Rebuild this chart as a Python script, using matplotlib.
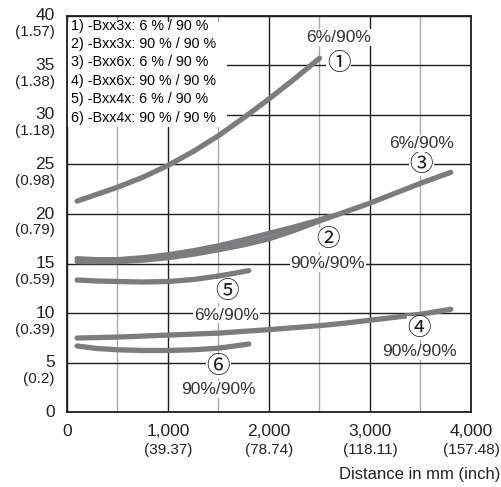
import matplotlib
matplotlib.use("Agg")
import matplotlib.pyplot as plt
from matplotlib.patches import Rectangle

plt.rcParams['font.family'] = ['Liberation Sans', 'DejaVu Sans']

# данные (расстояние в мм -> размер в мм)
x1 = [100, 300, 500, 750, 1000, 1250, 1500, 1750, 2000, 2250, 2500]
y1 = [21.3, 22.0, 22.7, 23.7, 24.9, 26.3, 27.9, 29.7, 31.6, 33.6, 35.7]

x2 = [100, 300, 500, 750, 1000, 1250, 1500, 1750, 2000, 2250, 2500, 2600]
y2 = [15.5, 15.4, 15.4, 15.6, 15.9, 16.3, 16.8, 17.4, 18.05, 18.7, 19.4, 19.75]

x3 = [100, 500, 750, 1000, 1250, 1500, 1750, 2000, 2250, 2500, 2750, 3000, 3250, 3500, 3800]
y3 = [15.2, 15.2, 15.35, 15.6, 15.95, 16.4, 16.9, 17.5, 18.35, 19.3, 20.2, 21.1, 22.1, 23.1, 24.2]

x4 = [100, 500, 1000, 1500, 2000, 2500, 2750, 3000, 3250, 3500, 3800]
y4 = [7.5, 7.6, 7.8, 8.0, 8.35, 8.75, 9.0, 9.3, 9.6, 9.9, 10.4]

x5 = [100, 300, 500, 750, 1000, 1250, 1500, 1800]
y5 = [13.35, 13.25, 13.2, 13.15, 13.2, 13.4, 13.75, 14.3]

x6 = [100, 300, 500, 750, 1000, 1250, 1500, 1800]
y6 = [6.7, 6.45, 6.32, 6.25, 6.25, 6.32, 6.48, 6.9]

legend_lines = [
    '1) -Bxx3x: 6 % / 90 %',
    '2) -Bxx3x: 90 % / 90 %',
    '3) -Bxx6x: 6 % / 90 %',
    '4) -Bxx6x: 90 % / 90 %',
    '5) -Bxx4x: 6 % / 90 %',
    '6) -Bxx4x: 90 % / 90 %',
]

y_ticks = [0, 5, 10, 15, 20, 25, 30, 35, 40]
y_inch = ['', '(0.2)', '(0.39)', '(0.59)', '(0.79)', '(0.98)', '(1.18)', '(1.38)', '(1.57)']
x_ticks = [0, 1000, 2000, 3000, 4000]
x_labels = ['0', '1,000', '2,000', '3,000', '4,000']
x_inch = ['', '(39.37)', '(78.74)', '(118.11)', '(157.48)']

# подписи кривых: (номер, текст, x, y номера, y текста)
curve_labels = [
    ('\u2460', '6%/90%', 2690, 35.2, 37.8),
    ('\u2461', '90%/90%', 2580, 17.4, 15.0),
    ('\u2462', '6%/90%', 3510, 25.0, 27.1),
    ('\u2463', '90%/90%', 3490, 8.5, 6.1),
    ('\u2464', '6%/90%', 1580, 12.2, 9.8),
    ('\u2465', '90%/90%', 1500, 4.6, 2.3),
]

fig = plt.figure(figsize=(5.01, 4.87), dpi=100)
ax = fig.add_axes([0.1337, 0.153, 0.8064, 0.815])

ax.set_xlim(0, 4000)
ax.set_ylim(0, 40)

# сетка
ax.set_xticks(x_ticks)
ax.set_xticks([500, 1500, 2500, 3500], minor=True)
ax.set_yticks(y_ticks)
ax.tick_params(which='both', length=0, labelbottom=False, labelleft=False)
ax.grid(True, which='major', color='#1e1e1e', linewidth=1.0, zorder=0)
ax.grid(True, which='minor', axis='x', color='#ababab', linewidth=1.0, zorder=0)
ax.set_axisbelow(True)
for s in ax.spines.values():
    s.set_color('#1e1e1e')
    s.set_linewidth(1.3)

col = '#7c7c7f'
for xs, ys in [(x1, y1), (x2, y2), (x3, y3), (x4, y4), (x5, y5), (x6, y6)]:
    ax.plot(xs, ys, color=col, linewidth=3.8, solid_capstyle='round',
            solid_joinstyle='round', zorder=3)

# легенда в левом верхнем углу
ax.add_patch(Rectangle((0, 28.8), 1580, 10.6, facecolor='white', edgecolor='none', zorder=2))
for i, line in enumerate(legend_lines):
    ax.text(40, 39.0 - i * 1.86, line, fontsize=10.3, va='center', ha='left', zorder=4)

for num, txt, xc, yn, yt in curve_labels:
    ax.text(xc, yn, num, fontsize=17, ha='center', va='center', fontweight='medium',
            family=['Noto Sans CJK SC', 'DejaVu Sans'], color='#1e1e1e',
            bbox=dict(facecolor='white', edgecolor='none', pad=0.3), zorder=4)
    ax.text(xc, yt, txt, fontsize=12.5, ha='center', va='center', color='#333333',
            bbox=dict(facecolor='white', edgecolor='none', pad=0.5), zorder=4)

# подписи осей
ytr = ax.get_yaxis_transform()
for v, inch in zip(y_ticks, y_inch):
    ax.text(-0.03, v, str(v), transform=ytr, fontsize=12.5, ha='right', va='center', color='#222222')
    if inch:
        ax.text(-0.03, v - 1.65, inch, transform=ytr, fontsize=11, ha='right', va='center', color='#222222')

xtr = ax.get_xaxis_transform()
for v, lab, inch in zip(x_ticks, x_labels, x_inch):
    ax.text(v, -0.049, lab, transform=xtr, fontsize=12.5, ha='center', va='center', color='#222222')
    if inch:
        ax.text(v, -0.094, inch, transform=xtr, fontsize=11, ha='center', va='center', color='#222222')

ax.text(1.072, -0.157, 'Distance in mm (inch)', transform=ax.transAxes,
        fontsize=12, ha='right', va='center', color='#222222')

fig.savefig('out.png', dpi=100)
